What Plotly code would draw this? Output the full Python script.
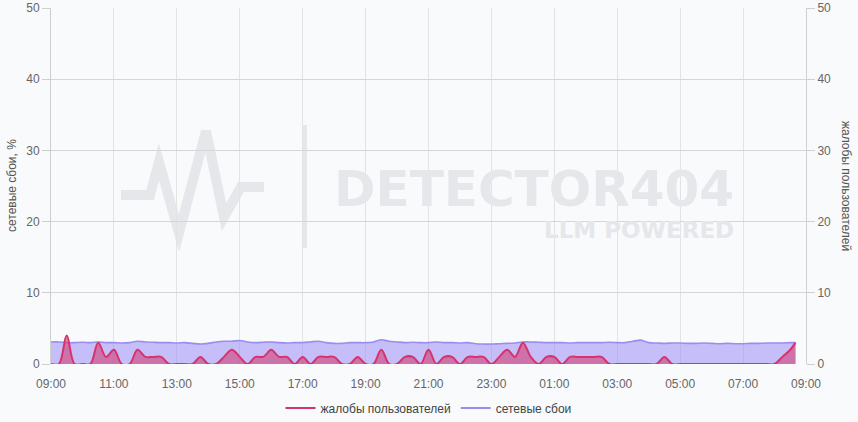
import pandas as pd
import plotly.graph_objects as go

# ---- data ----
start = "2024-05-01 09:00"
end_axis = "2024-05-02 09:00"
times = list(pd.date_range(start, periods=95, freq="15min").strftime("%Y-%m-%d %H:%M")) + ["2024-05-02 08:40"]

complaints = [0, 0, 4, 0, 0, 0, 3, 1, 2, 0,
              0, 2, 1, 1, 1, 0, 0, 0, 0, 1,
              0, 0, 1, 2, 1, 0, 1, 1, 2, 1,
              1, 0, 1, 0, 1, 1, 1, 0, 0, 1,
              0, 0, 2, 0, 0, 1, 1, 0, 2, 0,
              1, 1, 0, 1, 1, 1, 0, 1, 2, 1,
              3, 1, 0, 1, 1, 0, 1, 1, 1, 1,
              1, 0, 0, 0, 0, 0, 0, 0, 1, 0,
              0, 0, 0, 0, 0, 0, 0, 0, 0, 0,
              0, 0, 0, 1, 2, 3]

failures = [3.1, 3.1, 3.0, 3.0, 3.05, 3.0, 3.1, 3.0, 3.0, 2.95,
            3.0, 3.2, 3.1, 3.05, 3.0, 3.0, 2.95, 3.0, 2.9, 2.8,
            2.9, 3.1, 3.2, 3.2, 3.3, 3.1, 3.0, 3.05, 3.1, 3.0,
            2.95, 3.0, 3.0, 3.1, 3.2, 3.0, 2.9, 2.9, 3.0, 3.0,
            3.0, 3.1, 3.4, 3.2, 3.1, 3.0, 3.05, 3.0, 3.0, 3.1,
            3.0, 3.0, 2.95, 3.0, 2.85, 2.8, 2.8, 2.85, 2.9, 2.95,
            3.1, 3.1, 3.05, 3.0, 3.0, 3.0, 2.95, 3.0, 3.0, 3.0,
            3.0, 3.05, 3.0, 3.0, 3.2, 3.35, 3.0, 2.95, 2.9, 2.95,
            2.95, 2.9, 2.9, 2.95, 2.9, 2.85, 2.9, 2.85, 2.85, 2.9,
            2.9, 2.95, 2.95, 2.95, 3.0, 3.0]

name_complaints = "жалобы пользователей"
name_failures = "сетевые сбои"
title_left = "сетевые сбои, %"
title_right = "жалобы пользователей"
y_ticks = [0, 10, 20, 30, 40, 50]

PINK = "#d6336c"
PURPLE = "#9b8cf0"
BG = "#f9fafb"
WM = "#e5e7eb"
FONT = "Liberation Sans, Arial, sans-serif"

fig = go.Figure()

fig.add_trace(go.Scatter(
    x=times, y=failures, mode="lines", yaxis="y",
    line=dict(color=PURPLE, width=1.6, shape="spline", smoothing=0.8),
    fill="tozeroy", fillcolor="rgba(155,140,245,0.55)",
    showlegend=False, hoverinfo="skip"))

fig.add_trace(go.Scatter(
    x=times, y=complaints, mode="lines", yaxis="y2",
    line=dict(color=PINK, width=2, shape="spline", smoothing=1.0),
    fill="tozeroy", fillcolor="rgba(214,51,108,0.55)",
    showlegend=False, hoverinfo="skip"))

# legend-only entries
fig.add_trace(go.Scatter(x=[None], y=[None], mode="lines", name=name_complaints,
                         line=dict(color=PINK, width=2)))
fig.add_trace(go.Scatter(x=[None], y=[None], mode="lines", name=name_failures,
                         line=dict(color=PURPLE, width=2)))

L, R, T, B = 51, 806, 8, 364
W = R - L
H = B - T


def px(x):
    return (x - L) / W


def py(y):
    return (B - y) / H


# watermark: heartbeat + bar
hb = [(121, 195), (150, 195), (159, 162), (179, 233), (206, 131), (224, 217), (241, 187), (264, 187)]
path = "M " + " L ".join(f"{px(x):.4f},{py(y):.4f}" for x, y in hb)
shapes = [
    dict(type="path", path=path, xref="paper", yref="paper", layer="below",
         line=dict(color=WM, width=10)),
    dict(type="line", x0=px(305), x1=px(305), y0=py(125), y1=py(248), xref="paper", yref="paper",
         layer="below", line=dict(color=WM, width=4)),
]

annotations = [
    dict(text="<b>DETECTOR404</b>", x=px(736), y=py(189), xref="paper", yref="paper",
         xanchor="right", yanchor="middle", showarrow=False,
         font=dict(family="DejaVu Sans", size=50, color=WM)),
    dict(text="<b>LLM POWERED</b>", x=px(736), y=py(230), xref="paper", yref="paper",
         xanchor="right", yanchor="middle", showarrow=False,
         font=dict(family="DejaVu Sans", size=23, color=WM)),
    dict(text=title_left, x=px(12), y=0.5, xref="paper", yref="paper", textangle=-90,
         showarrow=False, xanchor="center", yanchor="middle",
         font=dict(family=FONT, size=12, color="#555")),
    dict(text=title_right, x=px(846), y=0.5, xref="paper", yref="paper", textangle=90,
         showarrow=False, xanchor="center", yanchor="middle",
         font=dict(family=FONT, size=12, color="#555")),
]

fig.update_layout(
    width=858, height=422,
    margin=dict(l=L, r=858 - R, t=T, b=422 - B, autoexpand=False),
    paper_bgcolor=BG, plot_bgcolor="rgba(0,0,0,0)",
    font=dict(family=FONT, size=12, color="#666"),
    shapes=shapes, annotations=annotations,
    xaxis=dict(type="date", range=[start, end_axis], tickformat="%H:%M",
               tick0=start, dtick=7200000, showgrid=True, gridcolor="#e3e3e3",
               gridwidth=1, showline=False, zeroline=False,
               ticks="outside", ticklen=9, tickcolor="rgba(0,0,0,0)", automargin=False,
               tickfont=dict(size=12, color="#666")),
    yaxis=dict(range=[0, 50], tickvals=y_ticks, showgrid=True, gridcolor="#d6d6d6",
               showline=True, linecolor="#cfcfcf", ticks="outside", ticklen=8,
               tickcolor="#cfcfcf", zeroline=False, automargin=False,
               tickfont=dict(size=12, color="#666")),
    yaxis2=dict(range=[0, 50], tickvals=y_ticks, overlaying="y", side="right",
                showgrid=False, showline=True, linecolor="#cfcfcf", ticks="outside",
                ticklen=8, tickcolor="#cfcfcf", zeroline=False, automargin=False,
                tickfont=dict(size=12, color="#666")),
    legend=dict(orientation="h", x=0.5, xanchor="center", y=py(408), yanchor="middle",
                font=dict(family=FONT, size=12, color="#444"), bgcolor="rgba(0,0,0,0)",
                itemwidth=30),
)

fig.write_html("out.html", config={"displayModeBar": False},
               post_script="document.body.style.margin='0';document.body.style.background='" + BG + "';")
